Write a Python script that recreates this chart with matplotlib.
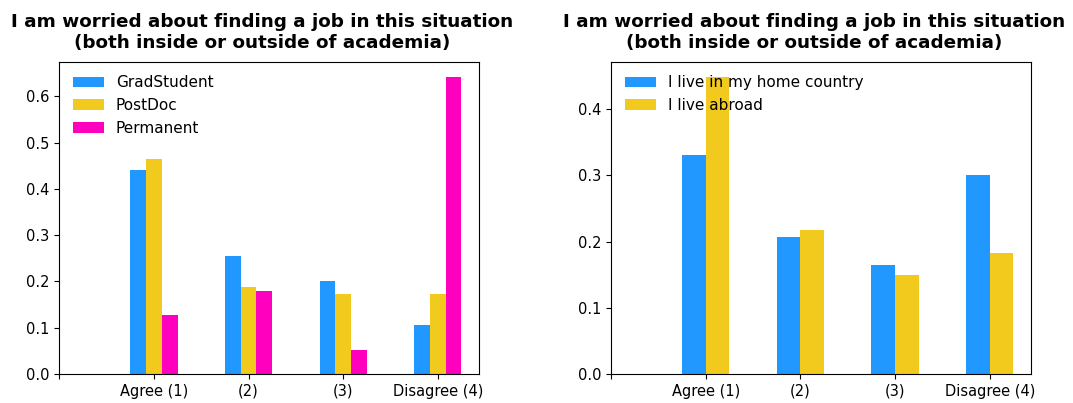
import numpy as np
import matplotlib
matplotlib.use("Agg")
import matplotlib.pyplot as plt

# =========================
# DATA
# =========================

categories = ["", "Agree (1)", "(2)", "(3)", "Disagree (4)"]

grad_student = [np.nan, 0.441, 0.254, 0.201, 0.106]
post_doc = [np.nan, 0.464, 0.188, 0.174, 0.174]
permanent = [np.nan, 0.128, 0.180, 0.052, 0.643]

home_country = [np.nan, 0.330, 0.207, 0.165, 0.300]
abroad = [np.nan, 0.449, 0.218, 0.149, 0.183]

title = "I am worried about finding a job in this situation\n(both inside or outside of academia)"

BLUE = "#2098FF"
YELLOW = "#F2CA1E"
MAGENTA = "#FF00BF"


def grouped_bars(ax, series, labels, colors):
    x = np.arange(len(categories))
    n = len(series)
    width = 0.5 / n
    for i, (vals, lab, col) in enumerate(zip(series, labels, colors)):
        offset = -0.25 + width * (i + 0.5)
        ax.bar(x + offset, vals, width, label=lab, color=col)
    ax.set_xticks(x)
    ax.set_xticklabels(categories, fontsize=10.5)
    ax.tick_params(axis="y", labelsize=10.5)
    ax.set_xlim(0, 4.437)
    top = np.nanmax(np.array(series)) * 1.05
    ax.set_ylim(0, top)
    ax.legend(loc="upper left", frameon=False, fontsize=11)
    ax.set_title(title, fontsize=13.2, fontweight="bold", pad=10, x=0.483)


# =========================
# PLOT
# =========================

fig, (ax1, ax2) = plt.subplots(1, 2, figsize=(10.73, 4.03), dpi=100)
plt.subplots_adjust(left=0.0553, right=0.9609, top=0.8469, bottom=0.072, wspace=0.3145)

grouped_bars(ax1, [grad_student, post_doc, permanent],
             ["GradStudent", "PostDoc", "Permanent"],
             [BLUE, YELLOW, MAGENTA])

grouped_bars(ax2, [home_country, abroad],
             ["I live in my home country", "I live abroad"],
             [BLUE, YELLOW])

ax1.set_yticks(np.arange(0, 0.61, 0.1))
ax2.set_yticks(np.arange(0, 0.41, 0.1))

plt.savefig("out.png", dpi=100)
